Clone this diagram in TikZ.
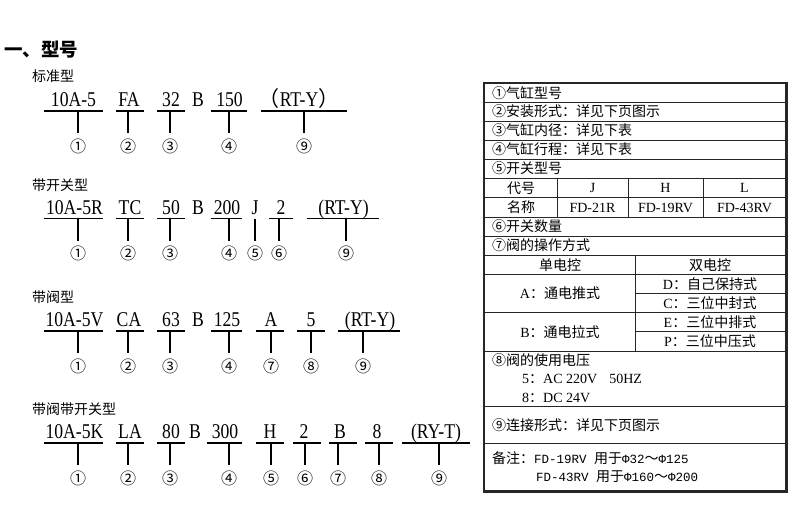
\documentclass[tikz,border=0pt]{standalone}
\usepackage{fontspec}
\setmainfont{Liberation Serif}
\newfontfamily\cjk{Noto Sans CJK SC}
\newfontfamily\monofnt{Liberation Mono}
\newfontfamily\codefnt[FakeStretch=0.84]{Liberation Serif}
\usetikzlibrary{positioning}
\tikzset{
  code/.style={font=\codefnt\fontsize{21}{21}\selectfont, inner sep=0pt, anchor=base},
  circnum/.style={font=\cjk\fontsize{16}{16}\selectfont, inner sep=0pt},
  uline/.style={line width=1.3pt},
  grouplbl/.style={font=\cjk\fontsize{14}{14}\selectfont, inner sep=0pt, anchor=west},
  cell/.style={font=\cjk\fontsize{14}{14}\selectfont, inner sep=0pt},
  rowtxt/.style={cell, anchor=west},
  latin/.style={font=\fontsize{14}{14}\selectfont},
  gridline/.style={line width=0.9pt, black!85},
  frameline/.style={line width=2.2pt, black!85}
}

% one field of a model code: text, underline, stem and its number
\newcommand{\codepart}[8]{%
  \node[code] (#1) at (#3,#2-4.5) {#4};
  \coordinate (#1-l) at (#5,#2);
  \coordinate (#1-r) at (#6,#2);
  \coordinate (#1-s) at (#7,#2);
  \node[circnum] (#1-n) at (#7,#2+35) {#8};
  \draw[uline] (#1-l) -- (#1-r);
  \draw[uline] (#1-s) -- ([yshift=5pt]#1-n.north);
}

\begin{document}
\begin{tikzpicture}[x=1pt, y=-1pt]
	\useasboundingbox (0,0) rectangle (792,504);

	% heading
	\node[font=\cjk\bfseries\fontsize{18.5}{18.5}\selectfont, inner sep=0pt, anchor=west] (title) at (4,50) {一、型号};

	% standard type
	\node[grouplbl] (std) at (32,76.5) {标准型};
	\foreach \n/\tx/\t/\a/\b/\s/\c in {
		a/73.5/10A-5/44/103/78/①,
		b/129/FA/116/144/128/②,
		c/171/32/157/185/170/③,
		d/229.5/150/211/247/229/④,
		e/299/{{\cjk（}RT-Y{\cjk）}}/261/347/304/⑨}
		{\codepart{std\n}{111}{\tx}{\t}{\a}{\b}{\s}{\c}}
	\node[code] (stdB) at (198,106.5) {B};

	% with switch
	\node[grouplbl] (sw) at (32,185) {带开关型};
	\foreach \n/\tx/\t/\a/\b/\s/\c in {
		a/74.5/10A-5R/44/103/78/①,
		b/130/TC/116/144/128/②,
		c/171/50/157/185/170/③,
		d/227/200/211/242/229/④,
		e/255/J/255/255/255/⑤,
		f/281/2/269/293/279/⑥,
		g/343.5/(RT-Y)/307/379/346/⑨}
		{\codepart{sw\n}{218.5}{\tx}{\t}{\a}{\b}{\s}{\c}}
	\node[code] (swB) at (198,214) {B};

	% with valve
	\node[grouplbl] (vl) at (32,297.5) {带阀型};
	\foreach \n/\tx/\t/\a/\b/\s/\c in {
		a/74.5/10A-5V/44/103/78/①,
		b/129/CA/116/144/128/②,
		c/171/63/157/185/170/③,
		d/227/125/211/242/229/④,
		e/271/A/256/284/271/⑦,
		f/311/5/297/325/311/⑧,
		g/370/(RT-Y)/338/400/363/⑨}
		{\codepart{vl\n}{331}{\tx}{\t}{\a}{\b}{\s}{\c}}
	\node[code] (vlB) at (198,326.5) {B};

	% with valve and switch
	\node[grouplbl] (vs) at (32,409) {带阀带开关型};
	\foreach \n/\tx/\t/\a/\b/\s/\c in {
		a/74.5/10A-5K/44/103/78/①,
		b/130/LA/116/144/128/②,
		c/171/80/157/185/170/③,
		d/225/300/207/242/229/④,
		e/270/H/256/284/271/⑤,
		f/304/2/293/321/305/⑥,
		g/340/B/329/357/338/⑦,
		h/377/8/365/393/379/⑧,
		i/436/(RY-T)/402/470/439/⑨}
		{\codepart{vs\n}{443}{\tx}{\t}{\a}{\b}{\s}{\c}}
	\node[code] (vsB) at (195,438.5) {B};

	% legend table
	\foreach \y in {102,121,140,159,178,197.3,217,236,255.7,274.3,312.7,351,406.7,443.3}
		\draw[gridline] (485,\y) -- (786,\y);
	\foreach \y in {293.3,331.7}
		\draw[gridline] (635,\y) -- (786,\y);
	\foreach \x in {557,628,703}
		\draw[gridline] (\x,178) -- (\x,217);
	\draw[gridline] (635,255.7) -- (635,351);
	\draw[frameline] (484,83) rectangle (786.5,491.5);

	\node[rowtxt] (t1) at (492,93) {①气缸型号};
	\node[rowtxt] (t2) at (492,111.5) {②安装形式：详见下页图示};
	\node[rowtxt] (t3) at (492,130.5) {③气缸内径：详见下表};
	\node[rowtxt] (t4) at (492,149.5) {④气缸行程：详见下表};
	\node[rowtxt] (t5) at (492,168.5) {⑤开关型号};
	\node[cell] (code) at (521,188) {代号};
	\node[cell, latin] (swJ) at (592.5,188) {J};
	\node[cell, latin] (swH) at (665.5,188) {H};
	\node[cell, latin] (swL) at (744.5,188) {L};
	\node[cell] (name) at (521,207) {名称};
	\node[cell, latin] (nJ) at (592.5,207.5) {FD-21R};
	\node[cell, latin] (nH) at (665.5,207.5) {FD-19RV};
	\node[cell, latin] (nL) at (744.5,207.5) {FD-43RV};
	\node[rowtxt] (t6) at (492,226.5) {⑥开关数量};
	\node[rowtxt] (t7) at (492,245.5) {⑦阀的操作方式};
	\node[cell] (single) at (560,265) {单电控};
	\node[cell] (double) at (710,265) {双电控};
	\node[cell, latin] (vA) at (560,293.5) {A{\cjk：通电推式}};
	\node[cell, latin] (vB) at (560,332) {B{\cjk：通电拉式}};
	\node[cell, latin] (vD) at (710,284) {D{\cjk：自己保持式}};
	\node[cell, latin] (vC) at (710,303) {C{\cjk：三位中封式}};
	\node[cell, latin] (vE) at (710,322) {E{\cjk：三位中排式}};
	\node[cell, latin] (vP) at (710,341.5) {P{\cjk：三位中压式}};
	\node[rowtxt] (t8) at (492,360.5) {⑧阀的使用电压};
	\node[rowtxt, latin] (v5) at (522,379) {5{\cjk：}AC 220V\hspace{12pt}50HZ};
	\node[rowtxt, latin] (v8) at (522,398) {8{\cjk：}DC 24V};
	\node[rowtxt] (t9) at (492,425) {⑨连接形式：详见下页图示};
	\node[rowtxt] (note1) at (492,458) {备注：{\monofnt\fontsize{12.5}{12.5}\selectfont FD-19RV }用于{\monofnt\fontsize{12.5}{12.5}\selectfont Φ32}～{\monofnt\fontsize{12.5}{12.5}\selectfont Φ125}};
	\node[rowtxt, font=\monofnt\fontsize{12.5}{12.5}\selectfont] (note2) at (536,477) {FD-43RV {\cjk\fontsize{14}{14}\selectfont 用于}Φ160{\cjk\fontsize{14}{14}\selectfont ～}Φ200};
\end{tikzpicture}
\end{document}
